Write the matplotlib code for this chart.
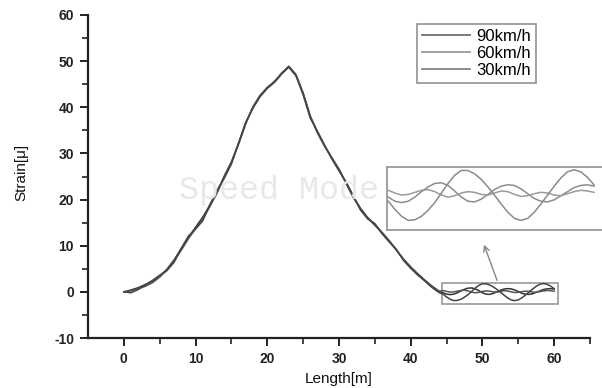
import matplotlib
matplotlib.use("Agg")
import matplotlib.pyplot as plt
from matplotlib.lines import Line2D
from matplotlib.patches import Rectangle

plt.rcParams["axes.unicode_minus"] = False

# ---------------- data ----------------
x_rise = [0, 1, 2, 3, 4, 5, 6, 7, 8, 9, 10, 11, 12, 13, 14, 15, 16, 17, 18, 19, 20,
          21, 22, 23, 24, 25, 26, 27, 28, 29, 30, 31, 32, 33, 34, 35, 36, 37, 38, 39,
          40, 41, 42, 43, 44]
x_tail = [44.5, 45, 45.5, 46, 46.5, 47, 47.5, 48, 48.5, 49, 49.5, 50, 50.5, 51, 51.5,
          52, 52.5, 53, 53.5, 54, 54.5, 55, 55.5, 56, 56.5, 57, 57.5, 58, 58.5, 59,
          59.5, 60]

v90_rise = [0.0, 0.4, 0.9, 1.6, 2.3, 3.4, 4.9, 6.9, 9.4, 11.8, 14.0, 16.2, 18.8, 21.7,
            25.1, 28.2, 32.2, 36.6, 40.1, 42.6, 44.3, 45.6, 47.4, 48.9, 47.1, 43.1,
            38.1, 34.6, 31.6, 29.1, 26.6, 23.6, 20.6, 18.1, 16.1, 14.6, 12.9, 11.1,
            9.1, 7.1, 5.4, 3.9, 2.5, 1.2, 0.1]
v60_rise = [0.0, 0.2, 0.7, 1.2, 2.0, 3.2, 4.7, 6.7, 9.0, 11.5, 13.7, 15.8, 18.5, 21.4,
            24.9, 28.0, 32.0, 36.4, 40.0, 42.5, 44.2, 45.5, 47.3, 48.8, 47.0, 43.0,
            38.0, 34.4, 31.5, 29.0, 26.5, 23.4, 20.4, 18.0, 16.0, 14.4, 12.8, 11.0,
            9.0, 7.0, 5.3, 3.8, 2.4, 1.1, 0.1]
v30_rise = [0.0, -0.2, 0.5, 1.5, 2.5, 3.6, 4.6, 6.4, 9.4, 12.1, 13.6, 15.4, 18.9, 22.0,
            24.6, 27.7, 32.3, 36.8, 39.8, 42.3, 44.1, 45.4, 47.2, 48.7, 46.8, 42.7,
            37.6, 34.8, 31.8, 28.8, 26.2, 23.8, 20.8, 17.7, 15.8, 14.8, 12.6, 10.8,
            9.2, 6.8, 5.1, 3.6, 2.3, 0.9, -0.2]

v90_tail = [-0.2, -0.5, -0.6, -0.5, -0.2, 0.2, 0.55, 0.8, 0.85, 0.65, 0.25, -0.2, -0.5,
            -0.55, -0.35, 0.0, 0.35, 0.6, 0.7, 0.65, 0.4, 0.05, -0.3, -0.5, -0.55, -0.4,
            -0.1, 0.2, 0.5, 0.65, 0.7, 0.6]
v60_tail = [0.3, 0.1, -0.05, 0.0, 0.15, 0.3, 0.35, 0.2, -0.05, -0.2, -0.1, 0.1, 0.2,
            0.15, 0.0, -0.05, 0.1, 0.25, 0.2, 0.0, -0.15, -0.1, 0.05, 0.15, 0.1, -0.05,
            -0.1, 0.05, 0.2, 0.3, 0.25, 0.15]
v30_tail = [-0.5, -1.1, -1.6, -1.9, -1.85, -1.6, -1.15, -0.6, 0.1, 0.8, 1.4, 1.75, 1.75,
            1.5, 1.1, 0.55, -0.05, -0.7, -1.3, -1.75, -1.9, -1.75, -1.3, -0.7, -0.05,
            0.6, 1.2, 1.65, 1.8, 1.65, 1.25, 0.7]

labels = ["90km/h", "60km/h", "30km/h"]
x_ticks = [0, 10, 20, 30, 40, 50, 60]
y_ticks = [-10, 0, 10, 20, 30, 40, 50, 60]

x_all = x_rise + x_tail
series = [v90_rise + v90_tail, v60_rise + v60_tail, v30_rise + v30_tail]
main_colors = ["#333333", "#555555", "#444444"]
inset_colors = ["#8c8c8c", "#9a9a9a", "#8a8a8a"]
legend_colors = ["#707070", "#9a9a9a", "#858585"]

# ---------------- figure ----------------
W, H = 602, 388
fig = plt.figure(figsize=(W / 100, H / 100), dpi=100)
ax = fig.add_axes([88 / W, 50 / H, 502 / W, 323 / H])

for ys, c in zip(series, main_colors):
    ax.plot(x_all, ys, color=c, lw=1.1)

ax.set_xlim(-5, 65)
ax.set_ylim(-10, 60)
ax.spines["top"].set_visible(False)
ax.spines["right"].set_visible(False)
for s in ("left", "bottom"):
    ax.spines[s].set_linewidth(1.6)
    ax.spines[s].set_color("#222222")
ax.set_xticks(x_ticks)
ax.set_yticks(y_ticks)
ax.set_xticks([5, 15, 25, 35, 45, 55, 65], minor=True)
ax.set_yticks([-5, 5, 15, 25, 35, 45, 55], minor=True)
ax.tick_params(which="major", direction="out", length=6, width=1.4, color="#222222",
               labelsize=10, pad=4)
ax.tick_params(which="minor", direction="out", length=4, width=1.2, color="#222222")
for lab in ax.get_xticklabels() + ax.get_yticklabels():
    lab.set_fontfamily("Liberation Sans")
    lab.set_fontweight("bold")
    lab.set_color("#222222")

ax.set_xlabel("Length[m]", fontsize=11, family="Liberation Sans", color="#111111")
ax.set_ylabel("Strain[μ]", fontsize=11, family="Liberation Sans", color="#111111")
ax.xaxis.set_label_coords((339 - 88) / 502, (338 - 372) / 323)
ax.yaxis.set_label_coords((28 - 88) / 502, (338 - 172) / 323)

# watermark
fig.text(279 / W, 1 - 191 / H, "Speed Mode", fontsize=24, family="Liberation Mono",
         color="#e8e8e8", ha="center", va="center", zorder=0)

# legend
handles = [Line2D([], [], color=c, lw=1.3) for c in legend_colors]
leg = ax.legend(handles, labels, loc="upper left",
                bbox_to_anchor=(417 / W, 1 - 24 / H), bbox_transform=fig.transFigure,
                frameon=True, fancybox=False, edgecolor="#777777",
                prop={"family": "Liberation Sans", "size": 12},
                handlelength=2.9, handletextpad=0.35, labelspacing=0.12,
                borderpad=0.3, borderaxespad=0)
leg.get_frame().set_linewidth(1.2)

# box around the tail region
ax.add_patch(Rectangle((44.4, -2.6), 16.2, 4.6, fill=False, edgecolor="#999999", lw=1.2))

# arrow from box to inset
ax.annotate("", xy=(483, H - 242), xycoords="figure pixels",
            xytext=(498, H - 283), textcoords="figure pixels",
            arrowprops=dict(arrowstyle="->", color="#888888", lw=1.0))

# inset
ins = fig.add_axes([387 / W, 1 - 230 / H, 220 / W, 63 / H])
for ys, c in zip(series, inset_colors):
    ins.plot(x_all, ys, color=c, lw=1.1)
ins.set_xlim(44.4, 44.4 + 16.2 * 220 / 215)
ins.set_ylim(-2.6, 2.0)
ins.set_xticks([])
ins.set_yticks([])
for s in ins.spines.values():
    s.set_color("#999999")
    s.set_linewidth(1.3)

fig.savefig("out.png", dpi=100)
